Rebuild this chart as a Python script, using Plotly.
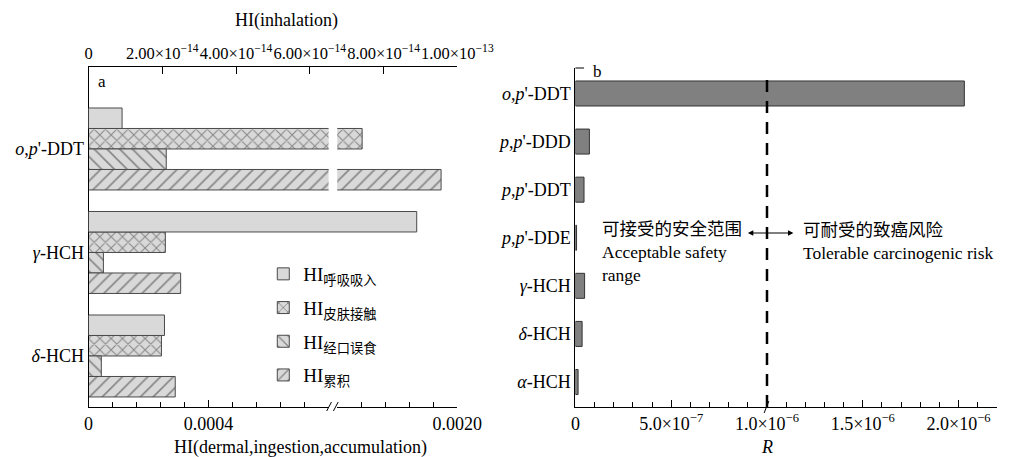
import plotly.graph_objects as go

W, H = 1034, 457
def fx(p):
    return p / W
def fy(p):
    return 1 - p / H

FONT = "Liberation Serif, Noto Sans CJK SC"
CJK = "Noto Sans CJK SC, Liberation Serif"

# ---------------- data: panel a ----------------
left_cats = ["o,p'-DDT", "γ-HCH", "δ-HCH"]
left_ticktext = ["<i>o</i>,<i>p</i>'-DDT", "<i>γ</i>-HCH", "<i>δ</i>-HCH"]
hi_inhalation = [0.91e-14, 8.9e-14, 2.06e-14]
hi_dermal = [0.001683, 0.000256, 0.000243]
hi_ingestion = [0.000259, 0.0000496, 0.0000427]
hi_accumulation = [0.001946, 0.000307, 0.000289]
series_names = ["HI<sub>呼吸吸入</sub>", "HI<sub>皮肤接触</sub>", "HI<sub>经口误食</sub>", "HI<sub>累积</sub>"]

top_tickvals = [0, 2e-14, 4e-14, 6e-14, 8e-14, 1e-13]
top_ticktext = ["0", "2.00×10<sup>−14</sup>", "4.00×10<sup>−14</sup>", "6.00×10<sup>−14</sup>",
                "8.00×10<sup>−14</sup>", "1.00×10<sup>−13</sup>"]
seg1_range = [0, 0.0008]
seg2_range = [0.0016, 0.0020]
seg1_ticks = [0, 0.0004]
seg1_ticktext = ["0", "0.0004"]
seg2_ticks = [0.0020]
seg2_ticktext = ["0.0020"]
minor_step = 0.00008

# ---------------- data: panel b ----------------
right_cats = ["o,p'-DDT", "p,p'-DDD", "p,p'-DDT", "p,p'-DDE", "γ-HCH", "δ-HCH", "α-HCH"]
right_ticktext = ["<i>o</i>,<i>p</i>'-DDT", "<i>p</i>,<i>p</i>'-DDD", "<i>p</i>,<i>p</i>'-DDT",
                  "<i>p</i>,<i>p</i>'-DDE", "<i>γ</i>-HCH", "<i>δ</i>-HCH", "<i>α</i>-HCH"]
risk_R = [2.03e-6, 7.3e-8, 4.5e-8, 0.6e-8, 4.8e-8, 3.5e-8, 1.4e-8]
r_tickvals = [0, 5e-7, 1e-6, 1.5e-6, 2e-6]
r_ticktext = ["0", "5.0×10<sup>−7</sup>", "1.0×10<sup>−6</sup>", "1.5×10<sup>−6</sup>", "2.0×10<sup>−6</sup>"]
threshold = 1e-6

# ---------------- geometry ----------------
L_left, L_right = 88, 472
seg1_end, seg2_start = 338, 347
P_top, P_bot = 67, 407
R_left, R_right = 595, 1034
R_top = 68
r_px_per_unit = 199.5e6

ypos_left = [len(left_cats) - 1 - i for i in range(len(left_cats))]
ypos_right = [len(right_cats) - 1 - i for i in range(len(right_cats))]
bw = 0.198

fig = go.Figure()

LINE = "#4a4a4a"
FILL = "#d9d9d9"

fig.add_trace(go.Bar(
    x=hi_inhalation, y=ypos_left, orientation="h", xaxis="x3", yaxis="y",
    width=bw, offset=bw, name=series_names[0], legendgroup="g0",
    marker=dict(color=FILL, line=dict(color=LINE, width=1)),
))

patterns = ["x", "\\", "/"]
vals = [hi_dermal, hi_ingestion, hi_accumulation]
offsets = [0, -bw, -2 * bw]
for k in range(3):
    for ax in ["x", "x2"]:
        fig.add_trace(go.Bar(
            x=vals[k], y=ypos_left, orientation="h", xaxis=ax, yaxis="y",
            width=bw, offset=offsets[k], name=series_names[k + 1],
            legendgroup="g%d" % (k + 1), showlegend=(ax == "x"),
            marker=dict(color=FILL, line=dict(color=LINE, width=1),
                        pattern=dict(shape=patterns[k], fgcolor="#333333", bgcolor=FILL,
                                     size=8 if patterns[k] == "x" else 9,
                                     solidity=0.24 if patterns[k] == "x" else 0.18,
                                     fillmode="overlay")),
        ))

fig.add_trace(go.Bar(
    x=risk_R, y=ypos_right, orientation="h", xaxis="x4", yaxis="y4",
    width=0.52, showlegend=False,
    marker=dict(color="#808080", line=dict(color="#333333", width=1)),
))

axcommon = dict(showgrid=False, zeroline=False, showline=True, linecolor="black", linewidth=1,
                tickfont=dict(family=FONT, size=18, color="black"), tickangle=0)

def minor_vals(lo, hi, step):
    out = []
    n = 1
    while lo + n * step < hi - 1e-12:
        out.append(lo + n * step)
        n += 1
    return out

fig.update_layout(
    width=W, height=H, autosize=False,
    margin=dict(l=0, r=0, t=0, b=0),
    paper_bgcolor="white", plot_bgcolor="rgba(0,0,0,0)",
    barmode="overlay",
    font=dict(family=FONT, size=18, color="black"),
    xaxis=dict(**axcommon, domain=[fx(L_left), fx(seg1_end)], range=seg1_range, anchor="y",
               tickmode="array", tickvals=seg1_ticks, ticktext=seg1_ticktext,
               ticks="inside", ticklen=7, tickcolor="black",
               minor=dict(tickvals=minor_vals(seg1_range[0], seg1_range[1], minor_step),
                          ticks="inside", ticklen=5, tickcolor="black")),
    xaxis2=dict(**axcommon, domain=[fx(seg2_start), fx(L_right)], range=seg2_range, anchor="y",
                tickmode="array", tickvals=seg2_ticks, ticktext=seg2_ticktext,
                ticks="inside", ticklen=7, tickcolor="black",
                minor=dict(tickvals=minor_vals(seg2_range[0], seg2_range[1], minor_step),
                           ticks="inside", ticklen=5, tickcolor="black")),
    xaxis3=dict(**axcommon, domain=[fx(L_left), fx(L_right)], range=[0, 1e-13], anchor="y",
                side="top", tickmode="array", tickvals=top_tickvals, ticktext=top_ticktext,
                ticks="inside", ticklen=7, tickcolor="black"),
    yaxis=dict(**axcommon, domain=[fy(P_bot), fy(P_top)], anchor="x",
               range=[-0.493, 2.792], tickmode="array", tickvals=ypos_left,
               ticktext=left_ticktext, ticks=""),
    xaxis4=dict(**axcommon, domain=[fx(R_left), 1.0],
                range=[0, (R_right - R_left) / r_px_per_unit], anchor="y4",
                tickmode="array", tickvals=r_tickvals, ticktext=r_ticktext,
                ticks="inside", ticklen=7, tickcolor="black",
                minor=dict(dtick=1e-7, tick0=0, ticks="inside", ticklen=5, tickcolor="black")),
    yaxis4=dict(**axcommon, domain=[fy(P_bot), fy(R_top)], anchor="x4",
                range=[-0.52, 6.53], tickmode="array", tickvals=ypos_right,
                ticktext=right_ticktext, ticks=""),
    legend=dict(x=fx(270), y=fy(255), xanchor="left", yanchor="top",
                bgcolor="rgba(0,0,0,0)", font=dict(family=FONT, size=19),
                traceorder="grouped", tracegroupgap=6, itemwidth=30),
)
fig.layout.xaxis3.tickfont.size = 16.5

ann = []
def text(px, py, s, size=16, xanchor="center", family=FONT, align="center"):
    ann.append(dict(x=fx(px), y=fy(py), xref="paper", yref="paper", text=s, showarrow=False,
                    xanchor=xanchor, yanchor="middle", align=align,
                    font=dict(family=family, size=size, color="black")))

text(294, 21, "HI(inhalation)", 18)
text(309, 447, "HI(dermal,ingestion,accumulation)", 18)
text(102, 82, "a", 17)
text(618, 71, "b", 17)
text(794, 447, "<i>R</i>", 18)

cjk_span = '<span style="font-family:Noto Sans CJK SC">%s</span>'
text(621, 250, (cjk_span % "可接受的安全范围") + "<br>Acceptable safety<br>range", 17.5,
     xanchor="left", align="left")
text(830, 240, (cjk_span % "可耐受的致癌风险") + "<br>Tolerable carcinogenic risk", 17.5,
     xanchor="left", align="left")

ann.append(dict(x=fx(822), y=fy(233), xref="paper", yref="paper", ax=-47, ay=0,
                axref="pixel", ayref="pixel", text="", showarrow=True,
                arrowhead=2, startarrowhead=2, arrowside="end+start",
                arrowsize=0.9, arrowwidth=1.2, arrowcolor="black"))
fig.update_layout(annotations=ann)

shapes = []
shapes.append(dict(type="line", xref="x4", yref="paper", x0=threshold, x1=threshold,
                   y0=fy(P_bot), y1=fy(73), line=dict(color="black", width=2.5, dash="12px,9px")))
for x0 in (336, 343):
    shapes.append(dict(type="line", xref="paper", yref="paper", x0=fx(x0), x1=fx(x0 + 5),
                       y0=fy(411), y1=fy(402), line=dict(color="black", width=1)))
xt = R_left + threshold * r_px_per_unit
shapes.append(dict(type="line", xref="paper", yref="paper", x0=fx(xt - 3), x1=fx(xt + 2),
                   y0=fy(413), y1=fy(401), line=dict(color="black", width=1)))
shapes.append(dict(type="line", xref="paper", yref="paper", x0=fx(R_left), x1=fx(R_left + 9),
                   y0=fy(R_top), y1=fy(R_top), line=dict(color="black", width=1)))
fig.update_layout(shapes=shapes)

fig.write_html(
    "out.html",
    config={"displayModeBar": False, "responsive": False},
    post_script=("document.body.style.margin='0px';document.body.style.overflow='hidden';"
                 "var gd=document.getElementById('{plot_id}');"
                 "Plotly.relayout(gd,{width:1034,height:457,autosize:false});"),
)
